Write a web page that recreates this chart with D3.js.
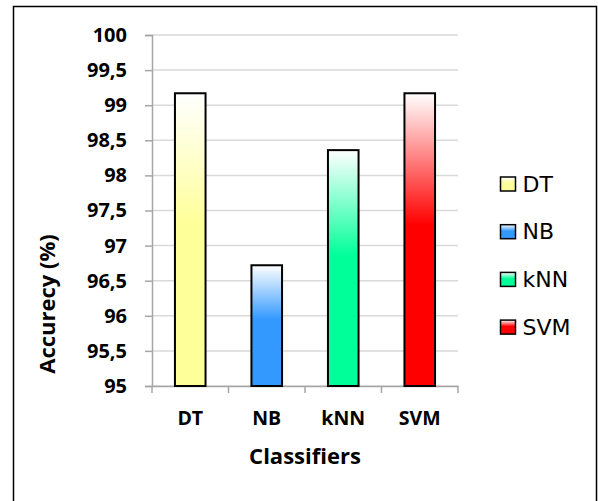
<!DOCTYPE html>
<html>
<head>
<meta charset="utf-8">
<script src="https://cdn.jsdelivr.net/npm/d3@7/dist/d3.min.js"></script>
<style>
  html, body { margin: 0; padding: 0; background: #fff; }
  svg { display: block; }
</style>
</head>
<body>
<script>
// Classifier accuracy results
const classifiers = ["DT", "NB", "kNN", "SVM"];
const accuracy = [99.17, 96.72, 98.36, 99.17];
const barColors = ["#ffff99", "#3399ff", "#00ff99", "#ff0000"];
const yTicks = [95, 95.5, 96, 96.5, 97, 97.5, 98, 98.5, 99, 99.5, 100];

const W = 598, H = 501;
const svg = d3.select("body").append("svg").attr("width", W).attr("height", H);

// outer frame
svg.append("rect").attr("x", 13.5).attr("y", 6.5).attr("width", 583).attr("height", 500)
  .attr("fill", "#fff").attr("stroke", "#000").attr("stroke-width", 1.5);

const plot = { left: 152, right: 458, top: 35, bottom: 386 };

const x = d3.scaleBand().domain(classifiers).range([plot.left, plot.right]).paddingInner(0.6).paddingOuter(0.3);
const xb = d3.scaleBand().domain(classifiers).range([plot.left, plot.right]);
const y = d3.scaleLinear().domain([95, 100]).range([plot.bottom, plot.top]);

const fmt = d => String(d).replace(".", ",");
const font = "'Open Sans', Carlito, Calibri, sans-serif";
const legendFont = "'DejaVu Sans', Verdana, sans-serif";

// gradients: white at top fading into the series colour
const defs = svg.append("defs");
barColors.forEach((c, i) => {
  const g = defs.append("linearGradient").attr("id", "grad" + i)
    .attr("x1", 0).attr("y1", 0).attr("x2", 0).attr("y2", 1);
  g.append("stop").attr("offset", "0%").attr("stop-color", "#ffffff");
  g.append("stop").attr("offset", "45%").attr("stop-color", c);
  g.append("stop").attr("offset", "100%").attr("stop-color", c);
});

// gridlines
svg.append("g").selectAll("line").data(yTicks).join("line")
  .attr("x1", plot.left).attr("x2", plot.right)
  .attr("y1", d => y(d)).attr("y2", d => y(d))
  .attr("stroke", "#d9d9d9").attr("stroke-width", 1.5);

// y axis
const yAxis = svg.append("g").attr("transform", `translate(${plot.left},0)`)
  .call(d3.axisLeft(y).tickValues(yTicks).tickFormat(fmt).tickSize(7).tickPadding(18));
yAxis.select(".domain").attr("stroke", "#a6a6a6").attr("stroke-width", 1.5);
yAxis.selectAll(".tick line").attr("stroke", "#a6a6a6").attr("stroke-width", 1.5);
yAxis.selectAll("text").attr("font-family", font).attr("font-weight", "bold")
  .attr("font-size", 20).attr("fill", "#000");

// x axis
const xAxis = svg.append("g").attr("transform", `translate(0,${plot.bottom})`)
  .call(d3.axisBottom(xb).tickSize(0).tickPadding(25));
xAxis.select(".domain").attr("stroke", "#a6a6a6").attr("stroke-width", 1.5);
xAxis.selectAll("text").attr("font-family", font).attr("font-weight", "bold")
  .attr("font-size", 19.5).attr("fill", "#000");
// category separators
svg.append("g").selectAll("line").data(classifiers.concat(["_end"])).join("line")
  .attr("x1", (d, i) => i < classifiers.length ? xb(d) : plot.right)
  .attr("x2", (d, i) => i < classifiers.length ? xb(d) : plot.right)
  .attr("y1", plot.bottom).attr("y2", plot.bottom + 7)
  .attr("stroke", "#a6a6a6").attr("stroke-width", 1.5);

// bars
svg.append("g").selectAll("rect").data(accuracy).join("rect")
  .attr("x", (d, i) => x(classifiers[i]))
  .attr("width", x.bandwidth())
  .attr("y", d => y(d))
  .attr("height", d => y(95) - y(d))
  .attr("fill", (d, i) => `url(#grad${i})`)
  .attr("stroke", "#000").attr("stroke-width", 2);

// axis titles
svg.append("text").attr("x", (plot.left + plot.right) / 2).attr("y", 464)
  .attr("text-anchor", "middle").attr("font-family", font).attr("font-weight", "bold")
  .attr("font-size", 22).text("Classifiers");
svg.append("text").attr("transform", `translate(55,304) rotate(-90)`)
  .attr("text-anchor", "middle").attr("font-family", font).attr("font-weight", "bold")
  .attr("font-size", 22).text("Accurecy (%)");

// legend
const legend = svg.append("g").selectAll("g").data(classifiers).join("g")
  .attr("transform", (d, i) => `translate(500.5,${177 + i * 47.7})`);
legend.append("rect").attr("width", 15).attr("height", 14)
  .attr("fill", (d, i) => `url(#grad${i})`).attr("stroke", "#000").attr("stroke-width", 1.5);
legend.append("text").attr("x", 22).attr("y", 14.5)
  .attr("font-family", legendFont).attr("font-size", 22).text(d => d);
</script>
</body>
</html>
